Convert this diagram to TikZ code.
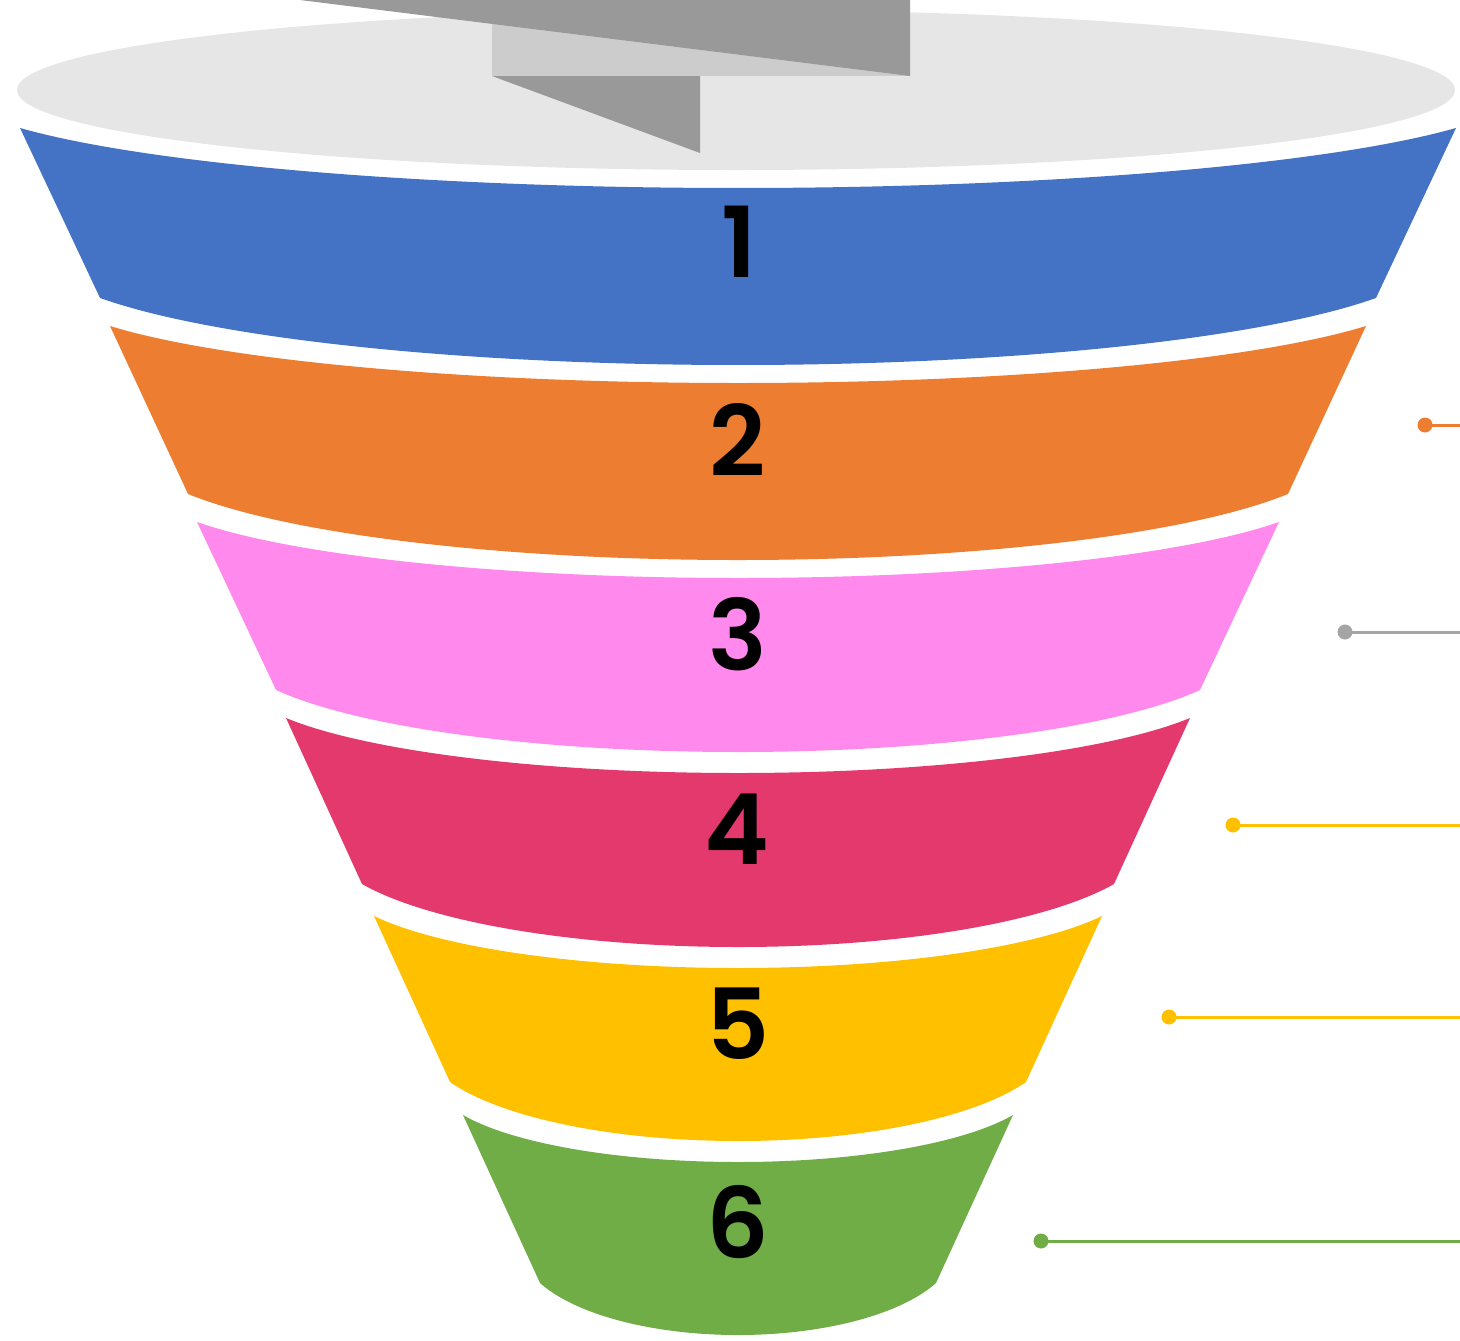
\documentclass[tikz,border=0pt]{standalone}
\usepackage{fontspec}
\setmainfont{Poppins}
\newfontfamily\numfont{Poppins SemiBold}
\definecolor{cBlue}{HTML}{4472C4}
\definecolor{cOrange}{HTML}{ED7D31}
\definecolor{cPink}{HTML}{FF89EC}
\definecolor{cRed}{HTML}{E3396D}
\definecolor{cYellow}{HTML}{FFC000}
\definecolor{cGreen}{HTML}{70AD47}
\definecolor{cLight}{HTML}{E6E6E6}
\definecolor{cMid}{HTML}{CCCCCC}
\definecolor{cDark}{HTML}{999999}
\definecolor{cGrey}{HTML}{A5A5A5}
\tikzset{
  num/.style={inner sep=0pt, font=\fontsize{49}{49}\numfont, text=black},
  dotnode/.style={circle, inner sep=0pt, minimum size=7.5pt},
  conn/.style={line width=1.5pt},
}
% band: color, wt, yt, dt, wb, yb, db
\newcommand\funnelband[7]{%
  \pgfmathsetmacro\kk{1.1}%
  \pgfmathsetmacro\ss{sqrt(1-1/(\kk*\kk))}%
  \pgfmathsetmacro\al{acos(1/\kk)}%
  \pgfmathsetmacro\ala{180-\al}%
  \pgfmathsetmacro\Ra{\kk*#2}%
  \pgfmathsetmacro\ra{(#4-#3)/(1-\ss)}%
  \pgfmathsetmacro\ca{#4-\ra}%
  \pgfmathsetmacro\Rb{\kk*#5}%
  \pgfmathsetmacro\rb{(#7-#6)/(1-\ss)}%
  \pgfmathsetmacro\cb{#7-\rb}%
  \fill[#1] plot[domain=\ala:\al, samples=90] ({738+\Ra*cos(\x)},{\ca+\ra*sin(\x)})
    -- plot[domain=\al:\ala, samples=90] ({738+\Rb*cos(\x)},{\cb+\rb*sin(\x)}) -- cycle;%
}
\begin{document}
\begin{tikzpicture}[x=0.5pt,y=-0.5pt]
\useasboundingbox (0,0) rectangle (1460,1340);
% top disc
\fill[cLight] (736,90) ellipse [x radius=359.5pt, y radius=40pt];
% grey ribbon
\fill[cMid] (492,0) rectangle (910,76);
\fill[cDark] (300,0) -- (910,0) -- (910,76) -- cycle;
\fill[cDark] (492,76) -- (700,76) -- (700,153) -- cycle;
% bands
\funnelband{cBlue}{718}{128}{188}{638}{298}{365}
\funnelband{cOrange}{628}{326}{383}{550}{494}{560}
\funnelband{cPink}{541}{522}{578}{462}{690}{752}
\funnelband{cRed}{452}{718}{773}{376}{884}{947}
\funnelband{cYellow}{364}{916}{968}{288}{1082}{1141}
\funnelband{cGreen}{275}{1115}{1162}{198}{1283}{1335}
% numbers
\node[num] (n1) at (739,242) {1};
\node[num] (n2) at (738,440) {2};
\node[num] (n3) at (738,634) {3};
\node[num] (n4) at (737,829) {4};
\node[num] (n5) at (738,1024) {5};
\node[num] (n6) at (738,1222) {6};
% connectors
\node[dotnode, fill=cOrange] (d2) at (1425,425) {};
\coordinate (e2) at (1460,425);
\draw[conn, cOrange] (d2.center) -- (e2);
\node[dotnode, fill=cGrey] (d3) at (1345,632) {};
\coordinate (e3) at (1460,632);
\draw[conn, cGrey] (d3.center) -- (e3);
\node[dotnode, fill=cYellow] (d4) at (1233,825) {};
\coordinate (e4) at (1460,825);
\draw[conn, cYellow] (d4.center) -- (e4);
\node[dotnode, fill=cYellow] (d5) at (1169,1017) {};
\coordinate (e5) at (1460,1017);
\draw[conn, cYellow] (d5.center) -- (e5);
\node[dotnode, fill=cGreen] (d6) at (1041,1241) {};
\coordinate (e6) at (1460,1241);
\draw[conn, cGreen] (d6.center) -- (e6);
\end{tikzpicture}
\end{document}
